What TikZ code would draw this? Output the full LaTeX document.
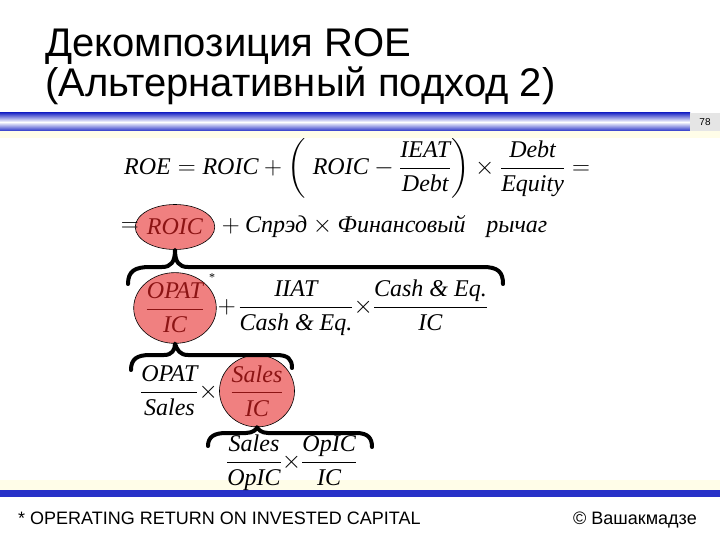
\documentclass[tikz,border=0pt]{standalone}
\usepackage{amsmath}
\usepackage{fontspec}
\setmainfont{Liberation Serif}
\newfontfamily\headfont{Liberation Sans}
\usepackage{tikz}
\usetikzlibrary{positioning, shapes.geometric}

\definecolor{barblue}{RGB}{40,50,200}
\definecolor{ovalfill}{RGB}{240,128,128}
\definecolor{ovaltext}{RGB}{140,20,20}
\definecolor{stripe}{RGB}{255,253,232}
\newcommand{\vn}[1]{\textit{#1}}
\newcommand{\tx}{\mkern-4mu\times\mkern-4mu}

\begin{document}
\begin{tikzpicture}[
  x=1pt, y=-1pt,
  formula/.style={
    inner sep=0pt,
    font=\fontsize{24}{28}\selectfont
  },
  oval/.style={
    ellipse,
    draw=black,
    line width=0.6pt,
    fill=ovalfill,
    inner sep=0pt,
    text=ovaltext,
    font=\fontsize{24}{28}\selectfont
  },
  curly/.style={
    line width=4pt,
    line cap=round,
    line join=round
  },
  heading/.style={
    anchor=base west,
    inner sep=0pt,
    font=\headfont\fontsize{40}{48}\selectfont
  },
  footer/.style={
    anchor=base west,
    inner sep=0pt,
    font=\headfont\fontsize{18}{21}\selectfont
  }
]
\useasboundingbox (0,0) rectangle (720,540);

% Slide frame: bars and stripes
\shade[top color=barblue, bottom color=barblue, middle color=white] (0,113) rectangle (690,131);
\fill[gray!20] (690,113) rectangle (720,131);
\node[inner sep=0pt, font=\headfont\fontsize{10}{12}\selectfont] (page) at (705,122) {78};
\fill[stripe] (0,131) rectangle (720,138);
\fill[stripe] (0,480) rectangle (720,490);
\fill[barblue] (0,490) rectangle (720,497);

% Title
\node[heading] (title1) at (45,57) {Декомпозиция ROE};
\node[heading] (title2) at (45,97) {(Альтернативный подход 2)};

% First line of the decomposition
\node[formula, anchor=west] (roe) at (124,168)
  {\(\vn{ROE}=\vn{ROIC}+\left(\;\vn{ROIC}-\dfrac{\vn{IEAT}}{\vn{Debt}}\right)\times\dfrac{\vn{Debt}}{\vn{Equity}}=\)};

% Second line with ROIC highlighted
\node[oval, minimum width=72, minimum height=45] (roic) at (175,227) {\vn{ROIC}};
\node[formula, anchor=east] (eq) at ([xshift=4pt]roic.west) {\(=\)};
\node[formula, anchor=west] (spread) at ([xshift=1pt]roic.east)
  {\({}+\vn{Спрэд}\times\vn{Финансовый}\;\;\;\vn{рычаг}\)};

% ROIC split
\node[oval, minimum width=80, minimum height=67] (opic) at (175,308)
  {\(\dfrac{\vn{OPAT}}{\vn{IC}}\)};
\node[inner sep=0pt, font=\fontsize{12}{14}\selectfont] (star) at (212,278) {*};
\node[formula, anchor=west] (cash) at ([xshift=1pt]opic.east)
  {\(+\mkern2mu\dfrac{\vn{IIAT}}{\vn{Cash \& Eq.}}\tx\dfrac{\vn{Cash \& Eq.}}{\vn{IC}}\)};

% OPAT/IC split
\node[oval, minimum width=70, minimum height=70] (sic) at (257,391)
  {\(\dfrac{\vn{Sales}}{\vn{IC}}\)};
\node[formula, anchor=east] (margin) at ([xshift=-1pt]sic.west)
  {\(\dfrac{\vn{OPAT}}{\vn{Sales}}\times\)};

% Sales/IC split
\node[formula, anchor=west] (turn) at (226,463)
  {\(\dfrac{\vn{Sales}}{\vn{OpIC}}\tx\dfrac{\vn{OpIC}}{\vn{IC}}\)};

% Braces
\draw[curly] (128,284) .. controls (128,271) and (135,267) .. (150,267) -- (162,267)
  .. controls (171,267) and (175,262) .. (roic.south)
  .. controls (175,262) and (179,267) .. (188,267) -- (483,267)
  .. controls (498,267) and (503,272) .. (503,284);
\draw[curly] (131,370) .. controls (131,359) and (137,355) .. (150,355) -- (164,355)
  .. controls (172,355) and (175,350) .. (opic.south)
  .. controls (177,350) and (180,355) .. (188,355) -- (276,355)
  .. controls (288,355) and (292,359) .. (292,368);
\draw[curly] (208,446) .. controls (208,437) and (214,433) .. (226,433) -- (246,433)
  .. controls (253,433) and (257,429) .. (sic.south)
  .. controls (258,429) and (261,433) .. (268,433) -- (356,433)
  .. controls (368,433) and (372,438) .. (372,447);

% Footer
\node[footer] (note) at (18,524) {* OPERATING RETURN ON INVESTED CAPITAL};
\node[footer] (copy) at (573,524) {© Вашакмадзе};
\end{tikzpicture}
\end{document}
